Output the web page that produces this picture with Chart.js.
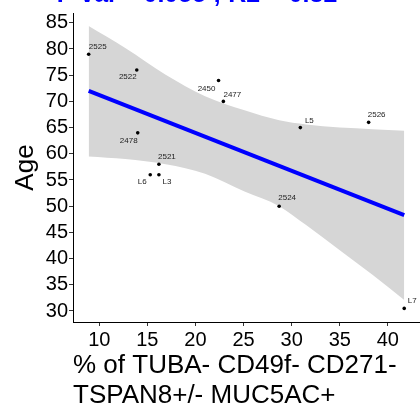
<!DOCTYPE html>
<html>
<head>
<meta charset="utf-8">
<script src="https://cdn.jsdelivr.net/npm/chart.js@4/dist/chart.umd.min.js"></script>
<style>
  html, body { margin: 0; padding: 0; background: #fff; overflow: hidden; }
  #wrap { position: absolute; left: -30px; top: -30px; }
</style>
</head>
<body>
<div id="wrap"><canvas id="ageChart" width="454" height="440"></canvas></div>
<script>
// samples, % of TUBA- CD49f- CD271- TSPAN8+/- MUC5AC+ vs age
var sampleIds = ["2525", "2522", "2450", "2477", "2478", "2521", "L6", "L3", "L5", "2526", "2524", "L7"];
var pctValues = [8.9, 13.9, 22.4, 22.9, 14.0, 16.2, 15.3, 16.2, 30.9, 38.0, 28.7, 41.7];
var ages = [79, 76, 74, 70, 64, 58, 56, 56, 65, 66, 50, 30.5];

// fitted line + confidence band
var fitX = [8.9, 41.7];
var fitAge = [72.0, 48.3];
var bandX = [8.9, 12.7, 16.9, 21.0, 25.1, 28.7, 31.5, 35.0, 38.4, 41.7];
var bandUpper = [84.4, 80.2, 75.1, 71.0, 68.3, 66.4, 65.6, 65.0, 64.7, 64.4];
var bandLower = [59.5, 59.0, 58.0, 56.2, 52.8, 50.0, 46.4, 41.6, 36.9, 32.1];

var xTicks = [10, 15, 20, 25, 30, 35, 40];
var yTicks = [30, 35, 40, 45, 50, 55, 60, 65, 70, 75, 80, 85];

var titleText = "P val = 0.055 ; R2 = 0.32";
var xTitle = ["% of TUBA- CD49f- CD271-", "TSPAN8+/- MUC5AC+"];
var yTitle = "Age";

var FONT = '"Liberation Sans", Arial, sans-serif';

function pts(xs, ys) {
    var out = [];
    for (let i = 0; i < xs.length; i++) out.push({ x: xs[i], y: ys[i] });
    return out;
}

// little text next to each dot
var labelOffsets = {
    "2525": [9, -7], "2522": [-9, 7], "2450": [-12, 8], "2477": [9, -7],
    "2478": [-9, 8], "2521": [8, -7], "L6": [-8, 7], "L3": [8, 7],
    "L5": [9, -7], "2526": [8, -8], "2524": [8, -8], "L7": [8, -8]
};
var pointLabels = {
    id: 'pointLabels',
    afterDatasetsDraw(chart) {
        var ctx = chart.ctx;
        var xs = chart.scales.x, ys = chart.scales.y;
        ctx.save();
        ctx.font = '8px ' + FONT;
        ctx.fillStyle = '#222';
        ctx.textAlign = 'center';
        ctx.textBaseline = 'middle';
        for (let i = 0; i < sampleIds.length; i++) {
            const off = labelOffsets[sampleIds[i]];
            ctx.fillText(sampleIds[i], xs.getPixelForValue(pctValues[i]) + off[0], ys.getPixelForValue(ages[i]) + off[1]);
        }
        ctx.restore();
    }
};

new Chart("ageChart", {
    type: "scatter",
    data: {
        datasets: [{
            data: pts(pctValues, ages),
            backgroundColor: '#000',
            borderWidth: 0,
            pointRadius: 1.8,
            order: 0
        }, {
            data: pts(fitX, fitAge),
            showLine: true,
            borderColor: '#0000ff',
            borderWidth: 4,
            pointRadius: 0,
            order: 1
        }, {
            data: pts(bandX, bandUpper),
            showLine: true,
            borderWidth: 0,
            pointRadius: 0,
            cubicInterpolationMode: 'monotone',
            fill: '+1',
            backgroundColor: '#d6d6d6',
            order: 2
        }, {
            data: pts(bandX, bandLower),
            showLine: true,
            borderWidth: 0,
            pointRadius: 0,
            cubicInterpolationMode: 'monotone',
            order: 3
        }]
    },
    options: {
        responsive: false,
        animation: false,
        layout: { padding: { left: 4, right: 4, top: 0, bottom: 0 } },
        plugins: {
            legend: { display: false },
            tooltip: { enabled: false },
            title: {
                display: true,
                text: titleText,
                color: '#0000ff',
                font: { family: FONT, size: 25, weight: 'bold', lineHeight: 1.2 },
                padding: { top: 10, bottom: 3 }
            }
        },
        scales: {
            x: {
                type: 'linear',
                min: 7.27,
                max: 43.34,
                afterBuildTicks: function (s) { s.ticks = xTicks.map(v => ({ value: v })); },
                afterFit: function (s) { s.height = 88; },
                ticks: { color: '#000', font: { family: FONT, size: 20 }, padding: 2, maxRotation: 0 },
                grid: { drawOnChartArea: false, drawTicks: true, tickLength: 4, color: '#333' },
                border: { display: true, color: '#000', width: 1 },
                title: {
                    display: true,
                    text: xTitle,
                    align: 'start',
                    color: '#000',
                    font: { family: FONT, size: 26, lineHeight: 1.12 },
                    padding: { top: 0, bottom: 0 }
                }
            },
            y: {
                type: 'linear',
                min: 27.9,
                max: 86.87,
                afterBuildTicks: function (s) { s.ticks = yTicks.map(v => ({ value: v })); },
                afterFit: function (s) { s.width = 99; },
                ticks: { color: '#000', font: { family: FONT, size: 20 }, padding: 1 },
                grid: { drawOnChartArea: false, drawTicks: true, tickLength: 4, color: '#333' },
                border: { display: true, color: '#000', width: 1 },
                title: {
                    display: true,
                    text: yTitle,
                    color: '#000',
                    font: { family: FONT, size: 26, lineHeight: 1.12 },
                    padding: { top: 37, bottom: 0 }
                }
            }
        }
    },
    plugins: [pointLabels]
});
</script>
</body>
</html>
